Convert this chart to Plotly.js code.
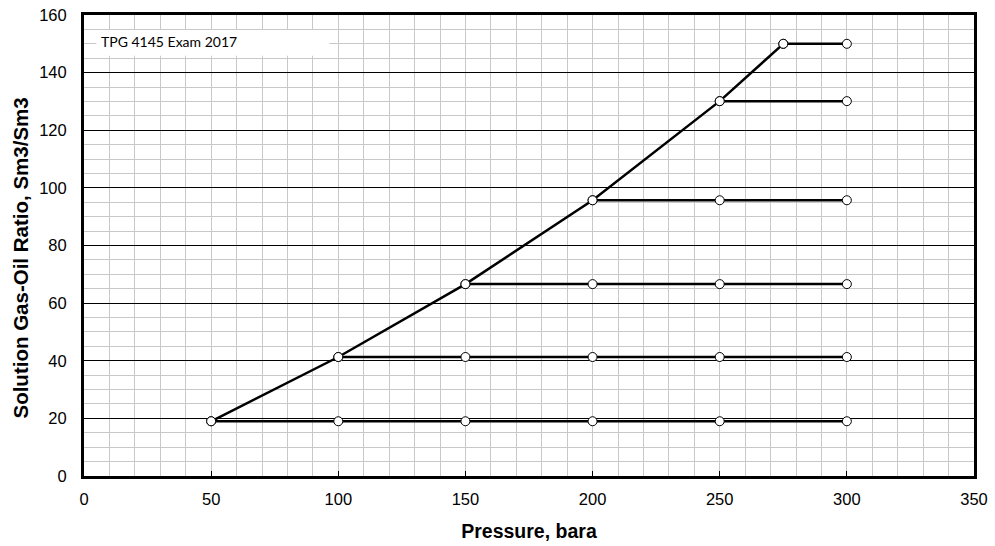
<!DOCTYPE html>
<html>
<head>
<meta charset="utf-8">
<script src="https://cdn.plot.ly/plotly-3.0.1.min.js"></script>
<style>html,body{margin:0;padding:0;background:#fff;}#chart{width:995px;height:546px;}</style>
</head>
<body>
<div id="chart"></div>
<script>
// Saturation (bubble point) curve
const bubblePressure = [50, 100, 150, 200, 250, 275];
const bubbleRs = [19.0, 41.3, 66.6, 95.7, 130.1, 150.0];
// Undersaturated branches: pressures for each branch (starting at its bubble point)
const branchPressures = [
  [50, 100, 150, 200, 250, 300],
  [100, 150, 200, 250, 300],
  [150, 200, 250, 300],
  [200, 250, 300],
  [250, 300],
  [275, 300]
];
const branchRs = [19.0, 41.3, 66.6, 95.7, 130.1, 150.0];
const noteText = "TPG 4145 Exam 2017";
const xTitle = "Pressure, bara";
const yTitle = "Solution Gas-Oil Ratio, Sm3/Sm3";

const markerStyle = {symbol: 'circle', size: 9, color: '#ffffff', line: {color: '#000000', width: 1}};
const traces = [];
branchPressures.forEach((px, i) => {
  traces.push({
    x: px,
    y: px.map(() => branchRs[i]),
    mode: 'lines+markers',
    line: {color: '#000000', width: 2.5},
    marker: markerStyle,
    showlegend: false,
    hoverinfo: 'x+y'
  });
});
traces.push({
  x: bubblePressure,
  y: bubbleRs,
  mode: 'lines+markers',
  line: {color: '#000000', width: 2.5},
  marker: markerStyle,
  showlegend: false,
  hoverinfo: 'x+y'
});

const tickFont = {family: 'Liberation Sans, Arial, sans-serif', size: 16.5, color: '#000000'};
const titleFont = {family: 'Liberation Sans, Arial, sans-serif', size: 19.5, color: '#000000', weight: 'bold'};
const yTitleFont = {family: 'Liberation Sans, Arial, sans-serif', size: 20.5, color: '#000000', weight: 'bold'};

const layout = {
  width: 995, height: 546,
  margin: {l: 84, r: 21, t: 15, b: 70, pad: 0},
  paper_bgcolor: '#ffffff',
  plot_bgcolor: '#ffffff',
  xaxis: {
    range: [0, 350], dtick: 50, tick0: 0,
    showgrid: true, gridcolor: '#c8c8c8', gridwidth: 1,
    minor: {dtick: 10, showgrid: true, gridcolor: '#c8c8c8', gridwidth: 1},
    zeroline: false,
    showline: true, linecolor: '#000000', linewidth: 3, mirror: true,
    ticks: 'inside', ticklen: 5, tickcolor: '#000000', tickwidth: 1,
    ticklabelstandoff: 6,
    tickfont: tickFont,
    title: {text: '<b>' + xTitle + '</b>', font: titleFont, standoff: 18},
    automargin: false, fixedrange: true
  },
  yaxis: {
    range: [0, 160], dtick: 20, tick0: 0,
    showgrid: true, gridcolor: '#000000', gridwidth: 1,
    minor: {dtick: 5, showgrid: true, gridcolor: '#c8c8c8', gridwidth: 1},
    zeroline: false,
    showline: true, linecolor: '#000000', linewidth: 3, mirror: true,
    ticks: 'inside', ticklen: 5, tickcolor: '#000000', tickwidth: 1,
    ticklabelstandoff: 11,
    tickfont: tickFont,
    automargin: false, fixedrange: true
  },
  shapes: [{
    type: 'rect', xref: 'x', yref: 'y',
    x0: 4.9, x1: 96.5, y0: 145.9, y1: 154.8,
    fillcolor: '#ffffff', line: {width: 0}, layer: 'above'
  }],
  annotations: [{
    xref: 'x', yref: 'y', x: 5.8, y: 150.8,
    xanchor: 'left', yanchor: 'middle',
    text: noteText, showarrow: false,
    font: {family: 'Lato, Open Sans, sans-serif', size: 14, color: '#000000'}
  }, {
    xref: 'paper', yref: 'paper', x: -0.071, y: 0.4735,
    xanchor: 'center', yanchor: 'middle', textangle: -90,
    text: '<b>' + yTitle + '</b>', showarrow: false,
    font: yTitleFont
  }]
};

Plotly.newPlot('chart', traces, layout, {displayModeBar: false, staticPlot: true});
</script>
</body>
</html>
